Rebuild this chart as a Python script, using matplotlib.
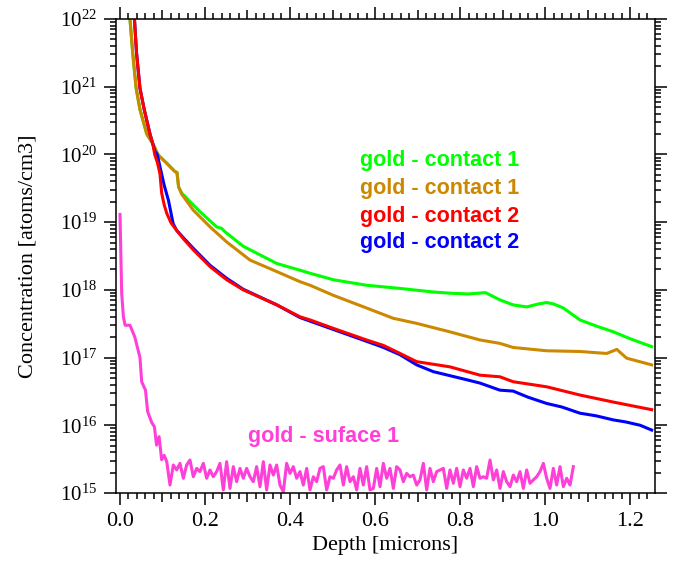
import numpy as np
import matplotlib
matplotlib.use("Agg")
import matplotlib.pyplot as plt
from matplotlib.ticker import (MultipleLocator, FixedLocator, FuncFormatter,
                               NullFormatter)

# ---------------- data: depth [microns] vs concentration [atoms/cm3] ----------------
green_depth = [0.021, 0.0235, 0.030, 0.038, 0.047, 0.063, 0.077, 0.090, 0.110, 0.129,
               0.134, 0.138, 0.145, 0.165, 0.188, 0.2275, 0.239, 0.247, 0.290, 0.369,
               0.4235, 0.447, 0.502, 0.580, 0.659, 0.737, 0.780, 0.820, 0.860, 0.894,
               0.925, 0.957, 0.985, 1.004, 1.020, 1.043, 1.082, 1.122, 1.161, 1.200, 1.251]
green_conc = [1.4e22, 1.0e22, 3.1e21, 9.5e20, 4.6e20, 2.0e20, 1.45e20, 9.8e19, 7.4e19, 5.6e19,
              5.4e19, 3.3e19, 2.7e19, 2.0e19, 1.43e19, 8.5e18, 8.1e18, 7.2e18, 4.4e18, 2.45e18,
              1.95e18, 1.76e18, 1.41e18, 1.17e18, 1.05e18, 9.3e17, 8.9e17, 8.7e17, 9.1e17, 7.1e17,
              6.0e17, 5.6e17, 6.2e17, 6.5e17, 6.2e17, 5.4e17, 3.6e17, 2.9e17, 2.4e17, 1.9e17, 1.45e17]

gold_depth = [0.021, 0.0235, 0.030, 0.038, 0.047, 0.063, 0.077, 0.090, 0.110, 0.129,
              0.134, 0.138, 0.145, 0.1725, 0.212, 0.251, 0.306, 0.369, 0.4235, 0.447,
              0.502, 0.580, 0.643, 0.698, 0.776, 0.847, 0.894, 0.925, 1.004, 1.082,
              1.145, 1.169, 1.192, 1.251]
gold_conc = [1.4e22, 1.0e22, 3.1e21, 9.5e20, 4.6e20, 2.0e20, 1.45e20, 9.8e19, 7.4e19, 5.6e19,
             5.4e19, 3.3e19, 2.6e19, 1.5e19, 8.5e18, 5.1e18, 2.75e18, 1.86e18, 1.32e18, 1.17e18,
             8.3e17, 5.4e17, 3.8e17, 3.2e17, 2.4e17, 1.82e17, 1.62e17, 1.41e17, 1.26e17, 1.23e17,
             1.15e17, 1.32e17, 9.8e16, 7.8e16]

red_depth = [0.032, 0.034, 0.039, 0.047, 0.057, 0.0706, 0.077, 0.082, 0.088, 0.094,
             0.098, 0.104, 0.110, 0.120, 0.133, 0.150, 0.1725, 0.212, 0.251, 0.290,
             0.369, 0.4235, 0.447, 0.502, 0.580, 0.620, 0.659, 0.698, 0.776, 0.847,
             0.894, 0.925, 1.004, 1.082, 1.161, 1.251]
red_conc = [1.4e22, 1.0e22, 3.1e21, 9.5e20, 4.6e20, 2.0e20, 1.45e20, 9.8e19, 7.6e19, 5.2e19,
            2.7e19, 1.8e19, 1.35e19, 9.8e18, 7.6e18, 5.6e18, 3.9e18, 2.2e18, 1.41e18, 1.0e18,
            6.0e17, 4.0e17, 3.6e17, 2.7e17, 1.82e17, 1.51e17, 1.15e17, 8.7e16, 7.3e16, 5.5e16,
            5.2e16, 4.4e16, 3.7e16, 2.8e16, 2.2e16, 1.7e16]

blue_depth = [0.032, 0.034, 0.039, 0.047, 0.057, 0.0706, 0.077, 0.082, 0.088, 0.094,
              0.104, 0.114, 0.125, 0.133, 0.150, 0.1725, 0.212, 0.251, 0.290, 0.369,
              0.4235, 0.502, 0.580, 0.620, 0.659, 0.698, 0.737, 0.816, 0.847, 0.894,
              0.925, 0.960, 1.004, 1.040, 1.082, 1.120, 1.161, 1.190, 1.224, 1.251]
blue_conc = [1.4e22, 1.0e22, 3.1e21, 9.5e20, 4.6e20, 2.0e20, 1.45e20, 1.12e20, 9.8e19, 6.6e19,
             3.5e19, 2.1e19, 9.5e18, 7.6e18, 5.8e18, 4.1e18, 2.3e18, 1.48e18, 1.02e18, 6.0e17,
             3.9e17, 2.6e17, 1.74e17, 1.41e17, 1.1e17, 7.8e16, 6.2e16, 4.7e16, 4.2e16, 3.3e16,
             3.2e16, 2.6e16, 2.1e16, 1.86e16, 1.51e16, 1.38e16, 1.2e16, 1.12e16, 1.0e16, 8.5e15]

# surface profile: steep near-surface decay ...
surf_depth = [0.000, 0.002, 0.004, 0.008, 0.012, 0.0235, 0.035, 0.047, 0.051, 0.060,
              0.065, 0.0746, 0.081, 0.086, 0.092, 0.098, 0.104, 0.110]
surf_conc = [1.3e19, 3.2e18, 8.9e17, 4.0e17, 3.0e17, 3.0e17, 2.0e17, 1.0e17, 4.4e16, 3.3e16,
             1.6e16, 1.1e16, 9.5e15, 5.1e15, 6.8e15, 3.1e15, 3.6e15, 2.9e15]
# ... followed by the detection-limit floor (units of 1e15 atoms/cm3)
floor_start, floor_end = 0.1176, 1.0667
floor_e15 = [1.31, 2.59, 2.19, 2.74, 1.65, 2.59, 3.07, 1.74, 2.31, 2.07,
             2.74, 1.65, 2.19, 1.74, 2.07, 2.74, 1.11, 2.90, 1.17, 2.45,
             1.47, 2.31, 1.65, 2.31, 1.74, 1.47, 2.45, 1.24, 2.90, 1.11,
             2.59, 1.84, 2.59, 1.31, 1.05, 2.74, 1.95, 2.45, 1.65, 2.07,
             1.31, 2.31, 1.11, 1.74, 1.47, 2.31, 2.45, 1.11, 1.74, 1.65,
             2.19, 2.59, 1.31, 2.45, 1.47, 1.74, 1.11, 2.31, 1.31, 2.45,
             1.11,
             1.17, 2.31, 1.24, 2.74, 1.65, 2.31, 1.17, 2.45, 2.19, 1.47,
             1.95, 1.74, 1.84, 1.31, 1.56, 2.74, 1.11, 2.31, 1.47, 2.07,
             2.19, 2.31, 1.17, 2.19, 1.39, 2.31, 1.24, 2.19, 1.65, 2.31,
             1.24, 2.45, 1.65, 1.74, 1.65, 3.07, 1.56, 2.19, 1.17, 2.07,
             1.47, 1.24, 1.84, 1.47, 2.07, 1.17, 2.19, 1.39, 1.56, 1.74,
             2.07, 2.74, 1.65, 1.17, 2.31, 1.31, 2.45, 1.24, 1.65, 1.31,
             2.45]

labels = ["gold - contact 1", "gold - contact 1", "gold - contact 2", "gold - contact 2"]
surf_label = "gold - suface 1"

# y-axis decades shown (10^15 ... 10^22)
decades = list(range(15, 23))

c_green, c_gold, c_red, c_blue, c_pink = "#00FF00", "#CC8800", "#FF0000", "#0000FF", "#FF40D8"

# ---------------- style ----------------
plt.rcParams["font.family"] = "Liberation Serif"
plt.rcParams["mathtext.fontset"] = "custom"
plt.rcParams["mathtext.rm"] = "Liberation Serif"
plt.rcParams["mathtext.default"] = "rm"

W, H = 674, 569
fig = plt.figure(figsize=(W / 100, H / 100), dpi=100)
ax = fig.add_axes([116 / W, 1 - 493 / H, 539 / W, 474 / H])

ax.set_yscale("log")
ax.set_xlim(-0.0094, 1.2588)
ax.set_ylim(10.0 ** decades[0], 10.0 ** decades[-1])

lw = 2.2
ax.plot(green_depth, green_conc, color=c_green, lw=lw)
ax.plot(gold_depth, gold_conc, color=c_gold, lw=lw)
ax.plot(blue_depth, blue_conc, color=c_blue, lw=lw)
ax.plot(red_depth, red_conc, color=c_red, lw=lw)

floor_depth = np.linspace(floor_start, floor_end, len(floor_e15))
pink_x = list(surf_depth) + list(floor_depth)
pink_y = list(surf_conc) + [v * 1e15 for v in floor_e15]
ax.plot(pink_x, pink_y, color=c_pink, lw=lw)

# ---------------- axes & ticks ----------------
for s in ax.spines.values():
    s.set_linewidth(1.1)

ax.xaxis.set_major_locator(MultipleLocator(0.2))
ax.xaxis.set_minor_locator(MultipleLocator(0.02))
ax.xaxis.set_major_formatter(FuncFormatter(lambda v, p: f"{v:.1f}"))

major_y = [10.0 ** d for d in decades]
minor_y = [k * 10.0 ** d for d in decades[:-1] for k in range(2, 10)]
ax.yaxis.set_major_locator(FixedLocator(major_y))
ax.yaxis.set_minor_locator(FixedLocator(minor_y))
ax.yaxis.set_major_formatter(
    FuncFormatter(lambda v, p: rf"$10^{{{int(round(np.log10(v)))}}}$"))
ax.yaxis.set_minor_formatter(NullFormatter())

ax.tick_params(which="both", direction="out", top=True, right=True,
               width=1.1, colors="black")
ax.tick_params(which="major", length=8.5, pad=5)
ax.tick_params(which="minor", length=4.3)
ax.tick_params(axis="x", labelsize=16)
ax.tick_params(axis="y", labelsize=15)

# longer minor ticks at the odd tenths (0.1, 0.3, ...)
minor_locs = ax.xaxis.get_minorticklocs()
for loc, tick in zip(minor_locs, ax.xaxis.get_minor_ticks(len(minor_locs))):
    k = loc / 0.1
    if abs(k - round(k)) < 1e-6 and int(round(k)) % 2 == 1:
        tick.tick1line.set_markersize(6.2)
        tick.tick2line.set_markersize(6.2)

ax.set_xlabel("Depth [microns]", fontsize=16, labelpad=4)
ax.set_ylabel("Concentration [atoms/cm3]", fontsize=16)
ax.yaxis.set_label_coords(-0.145, 0.5)

# ---------------- series labels ----------------
lab_kw = dict(family="Liberation Sans", weight="bold", size=15.5,
              ha="left", va="baseline")
for text, col, yb in zip(labels, [c_green, c_gold, c_red, c_blue],
                         [166, 194, 221.7, 248.3]):
    fig.text(360 / W, 1 - yb / H, text, color=col, **lab_kw)
fig.text(248 / W, 1 - 441.7 / H, surf_label, color=c_pink, **lab_kw)

fig.savefig("out.png", dpi=100)
